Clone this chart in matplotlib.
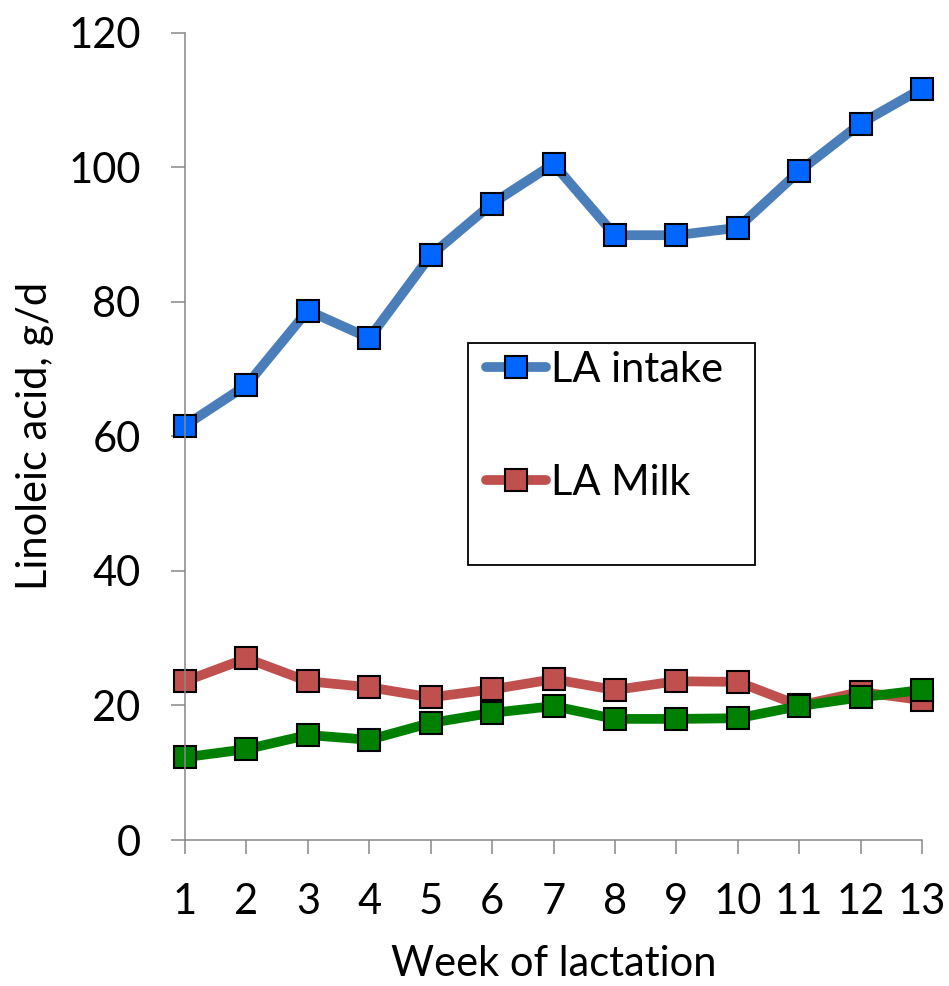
import matplotlib
matplotlib.use("Agg")
import matplotlib.pyplot as plt
from matplotlib.patches import Rectangle

plt.rcParams['font.family'] = ['Lato', 'DejaVu Sans']

weeks = [1, 2, 3, 4, 5, 6, 7, 8, 9, 10, 11, 12, 13]
la_intake = [61.6, 67.6, 78.7, 74.6, 86.9, 94.6, 100.5, 89.9, 89.9, 91.0, 99.4, 106.5, 111.7]
la_milk = [23.6, 27.0, 23.6, 22.7, 21.2, 22.4, 23.9, 22.3, 23.6, 23.5, 20.0, 22.0, 20.8]
la_third = [12.3, 13.5, 15.6, 14.9, 17.4, 18.9, 19.9, 18.0, 18.0, 18.1, 19.9, 21.2, 22.3]

W, H = 949, 986
fs = 30
fig = plt.figure(figsize=(W / 100, H / 100), dpi=100)
ax = fig.add_axes([185 / W, (H - 840) / H, (922 - 185) / W, (840 - 32.7) / H])

mk = dict(marker='s', markersize=16, markeredgecolor='black', markeredgewidth=1.5,
          linewidth=7, solid_capstyle='round', clip_on=False)
ax.plot(weeks, la_intake, color='#4A7EBB', markerfacecolor='#0066FF', label='LA intake', **mk)
ax.plot(weeks, la_milk, color='#C0504D', markerfacecolor='#C0504D', label='LA Milk', **mk)
ax.plot(weeks, la_third, color='#008000', markerfacecolor='#008000', **mk)

ax.set_xlim(1, 13)
ax.set_ylim(0, 120)
ax.set_xticks(weeks)
ax.set_yticks(range(0, 121, 20))

for s in ['top', 'right']:
    ax.spines[s].set_visible(False)
for s in ['left', 'bottom']:
    ax.spines[s].set_color('#888888')
    ax.spines[s].set_linewidth(1.1)

ax.tick_params(axis='both', direction='out', length=10, width=1.1, color='#888888',
               labelsize=fs)
ax.tick_params(axis='y', pad=22)
ax.tick_params(axis='x', pad=21)

ax.set_xlabel('Week of lactation', fontsize=fs, labelpad=17)
ax.set_ylabel('Linoleic acid, g/d', fontsize=fs, labelpad=10)

leg = ax.legend(loc='upper left', bbox_to_anchor=(486 / W, 1 - 351 / H),
                bbox_transform=fig.transFigure, frameon=False, fontsize=fs,
                handlelength=1.45, handletextpad=0.1, labelspacing=1.8,
                borderaxespad=0, borderpad=0)

fig.patches.append(Rectangle((468 / W, 1 - 565 / H), (755 - 468) / W, (565 - 343) / H,
                             transform=fig.transFigure, fill=False,
                             edgecolor='black', linewidth=1.3))

fig.savefig('out.png', dpi=100)
